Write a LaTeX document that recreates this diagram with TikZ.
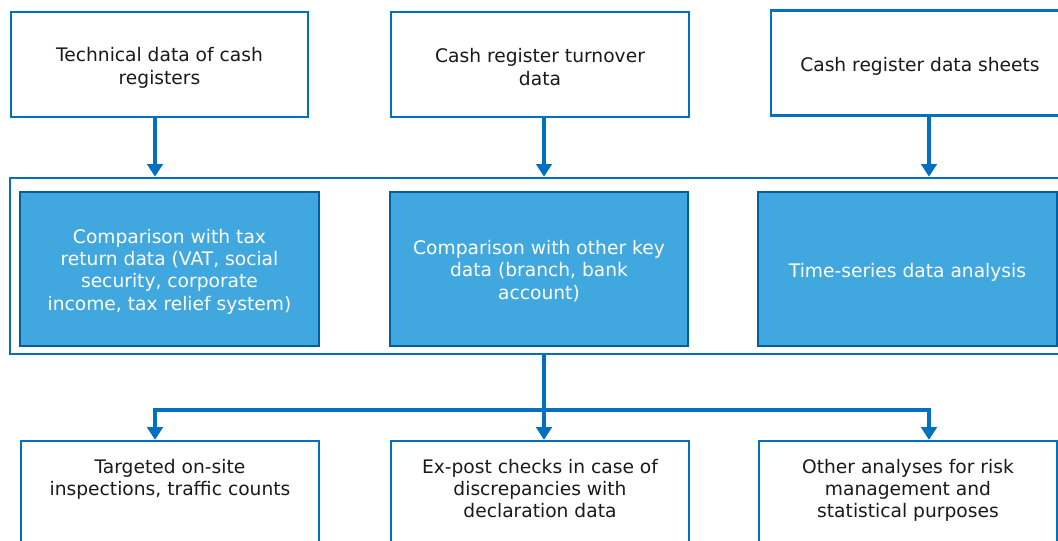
\documentclass[tikz,border=0pt]{standalone}
\usepackage{fontspec}
\setmainfont{DejaVu Sans}
\usetikzlibrary{arrows.meta}
\definecolor{edge}{RGB}{0,112,192}
\definecolor{boxfill}{RGB}{65,168,223}
\definecolor{ink}{RGB}{26,26,26}
\tikzset{
  txt/.style={font=\fontsize{14}{16.7}\selectfont, align=center, inner sep=0pt},
  srcbox/.style={draw=edge, line width=1.9pt, fill=white,
    inner sep=0pt, minimum width=223pt, minimum height=79pt},
  frame/.style={draw=edge, line width=1.9pt, inner sep=0pt},
  stagebox/.style={draw=edge!85!black, line width=1.9pt, fill=boxfill,
    inner sep=0pt, minimum width=224pt, minimum height=115.5pt},
  outbox/.style={draw=edge, line width=1.9pt, fill=white, inner sep=0pt,
    minimum width=223.5pt, minimum height=119pt},
  darktext/.style={txt, text=ink},
  lighttext/.style={txt, text=white},
  conn/.style={draw=edge, line width=3.2pt, -{Triangle[width=11.5pt,length=9.5pt]}},
  link/.style={draw=edge, line width=3.2pt},
}
\begin{document}
\begin{tikzpicture}[x=0.75pt,y=-0.75pt]
\useasboundingbox (0,0) rectangle (1058,541);
\clip (0,0) rectangle (1058,541);

% input data sources
\node[srcbox] (t1) at (159.5,64.5) {};
\node[srcbox, minimum width=223.5pt] (t2) at (540,64.5) {};
\node[srcbox, minimum width=223.5pt] (t3) at (920,63) {};
\node[darktext] (t1t) at ([yshift=-2.6pt]t1.center) {Technical data of cash\\registers};
\node[darktext] (t2t) at ([yshift=-2pt]t2.center) {Cash register turnover\\data};
\node[darktext] (t3t) at ([yshift=-2.4pt]t3.center) {Cash register data sheets};

% analysis stage
\node[frame, minimum width=798.75pt, minimum height=132pt] (cont) at (542.5,266) {};
\node[stagebox] (s1) at (169.5,269) {};
\node[stagebox, minimum width=223.5pt] (s2) at (539,269) {};
\node[stagebox] (s3) at (907.5,269) {};
\node[lighttext] (s1t) at ([yshift=-1.9pt]s1.center) {Comparison with tax\\return data (VAT, social\\security, corporate\\income, tax relief system)};
\node[lighttext] (s2t) at ([yshift=-1.6pt]s2.center) {Comparison with other key\\data (branch, bank\\account)};
\node[lighttext] (s3t) at ([yshift=-2.3pt]s3.center) {Time-series data analysis};

% follow-up measures
\node[outbox] (b1) at (170,520.5) {};
\node[outbox] (b2) at (540,520.5) {};
\node[outbox] (b3) at (908,520.5) {};
\node[darktext, anchor=north] (b1t) at (170,459) {Targeted on-site\\inspections, traffic counts};
\node[darktext, anchor=north] (b2t) at (540,459) {Ex-post checks in case of\\discrepancies with\\declaration data};
\node[darktext, anchor=north] (b3t) at (908,459) {Other analyses for risk\\management and\\statistical purposes};

% connector columns
\coordinate (j1) at (155,0);
\coordinate (j2) at (544,0);
\coordinate (j3) at (929,0);
\coordinate (hub) at (544,410);

\draw[conn] (t1.south -| j1) -- (cont.north -| j1);
\draw[conn] (t2.south -| j2) -- (cont.north -| j2);
\draw[conn] (t3.south -| j3) -- (cont.north -| j3);

\draw[link] (cont.south -| hub) -- (hub);
\draw[conn] (hub) -- (b2.north -| hub);
\draw[conn] (hub) -| (b1.north -| j1);
\draw[conn] (hub) -| (b3.north -| j3);
\end{tikzpicture}
\end{document}
